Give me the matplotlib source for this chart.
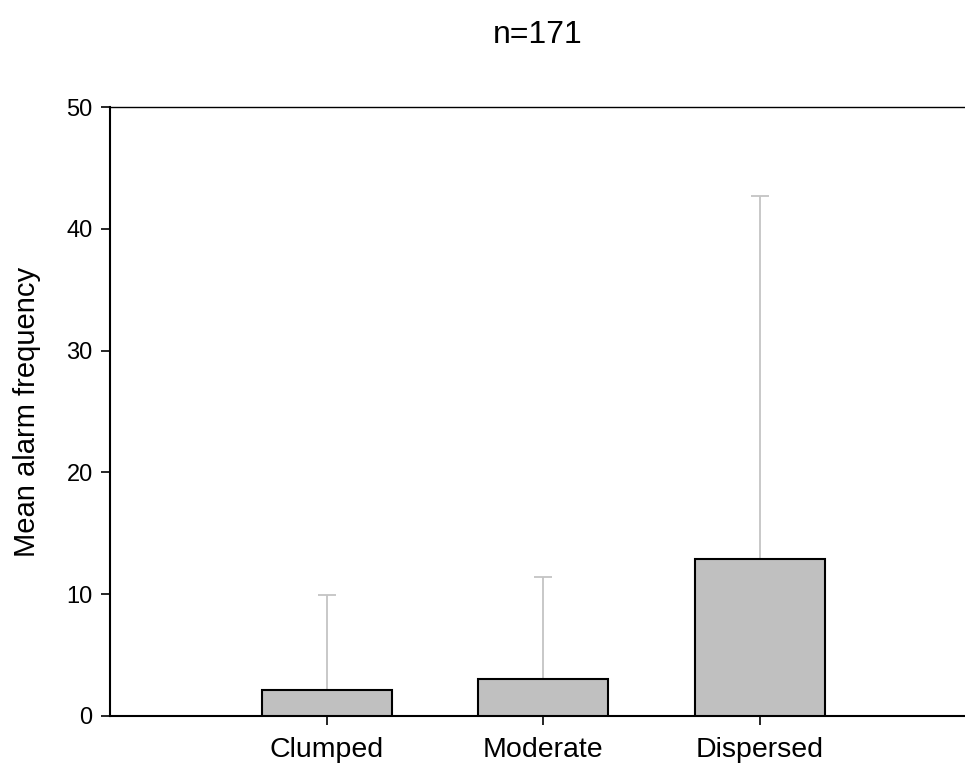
import matplotlib.pyplot as plt

plt.rcParams["font.family"] = ["Liberation Sans", "DejaVu Sans"]

categories = ["Clumped", "Moderate", "Dispersed"]
means = [2.15, 3.0, 12.9]
upper_err = [7.8, 8.4, 29.8]  # error bar length above the mean


def main():
    fig = plt.figure(figsize=(9.65, 7.69), dpi=100)
    ax = fig.add_axes([0.114, 0.0692, 0.886, 0.7913])

    x = list(range(1, len(categories) + 1))
    ax.bar(x, means, width=0.6, color="#c0c0c0", edgecolor="black",
           linewidth=1.5, zorder=3)
    ax.errorbar(x, means, yerr=[[0] * len(means), upper_err], fmt="none",
                ecolor="#c4c4c4", elinewidth=1.3, capsize=6.5, capthick=1.3,
                zorder=2)

    ax.set_xlim(0, 3.946)
    ax.set_ylim(0, 50)
    ax.set_xticks(x)
    ax.set_xticklabels(categories, fontsize=20.5)
    ax.set_yticks([0, 10, 20, 30, 40, 50])
    ax.tick_params(axis="y", labelsize=17, length=6.5, width=1.2, pad=6)
    ax.tick_params(axis="x", length=6.5, width=1.2, pad=9)

    ax.spines["right"].set_visible(False)
    ax.spines["left"].set_linewidth(1.5)
    ax.spines["bottom"].set_linewidth(1.5)
    ax.spines["top"].set_linewidth(1.0)

    ax.set_ylabel("Mean alarm frequency", fontsize=21, labelpad=18)
    ax.set_title("n=171", fontsize=23, pad=46)

    plt.savefig("out.png", dpi=100)
    plt.close()


main()
